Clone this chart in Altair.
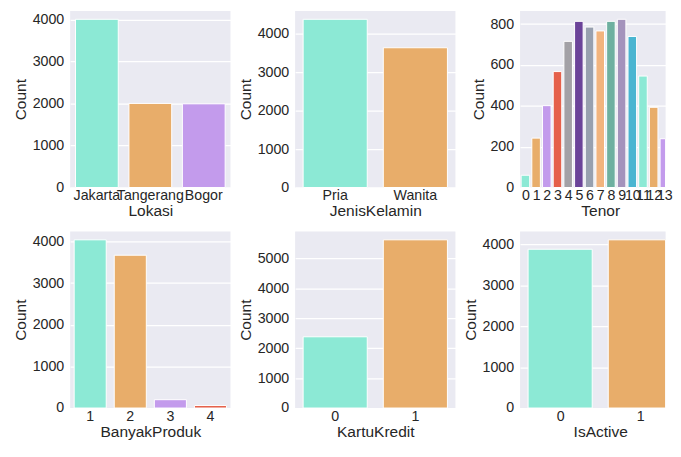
import altair as alt
import pandas as pd

# ---- data ----
lokasi_cats = ["Jakarta", "Tangerang", "Bogor"]
lokasi_vals = [4000, 2000, 1990]

jk_cats = ["Pria", "Wanita"]
jk_vals = [4375, 3635]

tenor_cats = list(range(15))
tenor_vals = [60, 242, 401, 568, 716, 814, 786, 767, 814, 824, 740, 546, 393, 239, 82]

produk_cats = ["1", "2", "3", "4"]
produk_vals = [4040, 3670, 200, 60]

kartu_cats = ["0", "1"]
kartu_vals = [2380, 5620]

active_cats = [0, 1]
active_vals = [3880, 4110]

palette = ["#8CE9D5", "#E8AD6A", "#C39BEC", "#E5604A", "#A3A1A6", "#6B4399",
           "#98A0AF", "#F2B47E", "#6EB0A0", "#A493BC", "#4AB5D1"]

FONT = "Liberation Sans"
TXT = "#262626"
W = 162.5
H = 179
W3 = 147.5  # visible part of the right-hand column (cropped at the image edge)


def frame(cats, vals, field):
    n = len(cats)
    return pd.DataFrame({field: cats, "Count": vals,
                         "col": [palette[i % len(palette)] for i in range(n)]})


def yenc(ymax, yticks):
    return alt.Y("Count:Q", scale=alt.Scale(domain=[0, ymax], nice=False, zero=True),
                 axis=alt.Axis(values=yticks, grid=True, domain=False, ticks=False,
                               format="d", labelPadding=6.5, titlePadding=4),
                 title="Count")


XAX = dict(labelAngle=0, grid=False, domain=False, ticks=False,
           labelOverlap=False, labelPadding=1.5, titlePadding=1.5)


def panel(cats, vals, field, yticks):
    df = frame(cats, vals, field)
    return (
        alt.Chart(df)
        .mark_bar(stroke="white", strokeWidth=1)
        .encode(
            x=alt.X(f"{field}:N", sort=cats,
                    scale=alt.Scale(paddingInner=0.2, paddingOuter=0.1),
                    axis=alt.Axis(**XAX), title=field),
            y=yenc(max(vals) * 1.05, yticks),
            color=alt.Color("col:N", scale=None),
        )
        .properties(width=W, height=H)
    )


def cropped_panel(cats, vals, field, yticks, shown):
    """Right-hand column: the panel runs past the image edge, so only part is visible."""
    df = frame(cats, vals, field)
    step = W / len(cats)
    xmax = -0.5 + W3 / step
    return (
        alt.Chart(df)
        .transform_calculate(x0=f"datum['{field}'] - 0.4", x1=f"datum['{field}'] + 0.4")
        .mark_bar(stroke="white", strokeWidth=1)
        .encode(
            x=alt.X("x0:Q", scale=alt.Scale(domain=[-0.5, xmax], nice=False, zero=False, clamp=True),
                    axis=alt.Axis(values=shown, format="d", labelFlush=False,
                                  labelBound=False, titleX=W / 2, **XAX),
                    title=field),
            x2="x1:Q",
            y=yenc(max(vals) * 1.05, yticks),
            y2=alt.datum(0),
            color=alt.Color("col:N", scale=None),
        )
        .properties(width=W3, height=H)
    )


p1 = panel(lokasi_cats, lokasi_vals, "Lokasi", [0, 1000, 2000, 3000, 4000])
p2 = panel(jk_cats, jk_vals, "JenisKelamin", [0, 1000, 2000, 3000, 4000])
p3 = cropped_panel(tenor_cats, tenor_vals, "Tenor", [0, 200, 400, 600, 800],
                   [v for v in tenor_cats if (v + 0.5) * W / len(tenor_cats) < W3])
p4 = panel(produk_cats, produk_vals, "BanyakProduk", [0, 1000, 2000, 3000, 4000])
p5 = panel(kartu_cats, kartu_vals, "KartuKredit", [0, 1000, 2000, 3000, 4000, 5000])
p6 = cropped_panel(active_cats, active_vals, "IsActive", [0, 1000, 2000, 3000, 4000], active_cats)

chart = (
    alt.concat(p1, p2, p3, p4, p5, p6, columns=3, spacing={"row": 44.5, "column": 65}, bounds="flush")
    .properties(padding={"left": 4, "top": 0, "right": 0, "bottom": 0}, background="white")
    .configure_view(fill="#EAEAF2", strokeWidth=0)
    .configure_axis(labelFont=FONT, titleFont=FONT, labelFontSize=14.4, titleFontSize=15.7,
                    labelColor=TXT, titleColor=TXT, titleFontWeight="normal",
                    gridColor="white", gridWidth=1.25, gridOpacity=1)
)

chart.save("out.html", embed_options={"renderer": "svg", "actions": False})
